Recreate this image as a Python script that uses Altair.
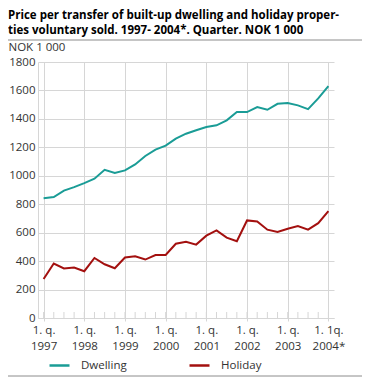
import json
import altair as alt
import pandas as pd

# ---- data ----
quarter_index = list(range(29))  # 1997Q1 .. 2004Q1
dwelling = [842, 850, 896, 920,
            948, 979, 1042, 1019,
            1038, 1080, 1139, 1184,
            1212, 1261, 1296, 1320,
            1343, 1355, 1390, 1448,
            1448, 1483, 1464, 1506,
            1511, 1495, 1469, 1544,
            1630]
holiday = [274, 383, 348, 355,
           329, 422, 378, 350,
           425, 434, 411, 443,
           443, 522, 536, 516,
           579, 616, 565, 540,
           686, 679, 621, 605,
           628, 647, 621, 667,
           751]
tick_labels = ["1. q.|1997", "1. q.|1998", "1. q.|1999", "1. q.|2000",
               "1. q.|2001", "1. q.|2002", "1. q.|2003", "1. 1q.|2004*"]
tick_positions = [0, 4, 8, 12, 16, 20, 24, 28]
y_ticks = [0, 200, 400, 600, 800, 1000, 1200, 1400, 1600, 1800]
series_names = ["Dwelling", "Holiday"]
series_colors = ["#1a9c96", "#a3100f"]
title_lines = ["Price per transfer of built-up dwelling and holiday proper-",
               "ties voluntary sold. 1997- 2004*. Quarter. NOK 1 000"]
y_title = "NOK 1 000"

rows = []
for i in quarter_index:
    rows.append({"q": i, "series": "Dwelling", "value": dwelling[i]})
    rows.append({"q": i, "series": "Holiday", "value": holiday[i]})
df = pd.DataFrame(rows)
ticks_df = pd.DataFrame({"q": quarter_index})
one = pd.DataFrame({"d": [0]})

W, H = 296, 256
LEFT = 30
FONT = "Open Sans"
TXT = "#333333"
GRID = "#d6d6d6"

x_scale = alt.Scale(domain=[-0.55, 28.55], nice=False, zero=False)
y_scale = alt.Scale(domain=[0, 1800], nice=False)

label_expr = "split(" + json.dumps(tick_labels) + "[round(datum.value/4)], '|')"

x_enc = alt.X("q:Q", scale=x_scale, axis=alt.Axis(
    values=tick_positions, labelExpr=label_expr, title=None,
    grid=True, gridColor=GRID, domain=True, domainColor=GRID,
    ticks=True, tickSize=3, tickColor=GRID,
    labelFont=FONT, labelFontSize=11.5, labelColor=TXT, labelPadding=3,
    labelLineHeight=16, labelFlush=False, labelOverlap=False))

y_enc = alt.Y("value:Q", scale=y_scale, axis=alt.Axis(
    values=y_ticks, format="d", title=y_title, titleAngle=0, titleX=-LEFT, titleY=-15,
    titleAlign="left", titleBaseline="middle", titleFontWeight="normal",
    titleFont=FONT, titleFontSize=11.5, titleColor=TXT,
    grid=True, gridColor=GRID, domain=True, domainColor=GRID, ticks=False,
    labelFont=FONT, labelFontSize=11.5, labelColor=TXT, labelPadding=3))

lines = alt.Chart(df).mark_line(strokeWidth=2).encode(
    x=x_enc, y=y_enc,
    color=alt.Color("series:N", scale=alt.Scale(domain=series_names, range=series_colors),
                    legend=alt.Legend(title=None, orient="none", legendX=10, legendY=292,
                                      direction="horizontal", symbolType="stroke",
                                      symbolStrokeWidth=2.5, symbolSize=400,
                                      labelFont=FONT, labelFontSize=11.5, labelColor=TXT,
                                      labelOffset=10, columnPadding=57)),
)

qticks = alt.Chart(ticks_df).mark_rule(color=GRID, strokeWidth=1).encode(
    x=alt.X("q:Q", scale=x_scale),
    y=alt.value(H - 6), y2=alt.value(H),
)

title = alt.Chart(one).mark_text(
    align="left", baseline="alphabetic", font=FONT, fontSize=11.5, fontWeight="bold",
    color="#000000", lineHeight=15.5, text=title_lines,
).encode(x=alt.value(-LEFT), y=alt.value(-43.5))

rule_top = alt.Chart(one).mark_rule(color="#8c8c8c", strokeWidth=1).encode(
    x=alt.value(-LEFT), x2=alt.value(324), y=alt.value(-22))
rule_bottom = alt.Chart(one).mark_rule(color="#8c8c8c", strokeWidth=1).encode(
    x=alt.value(-LEFT), x2=alt.value(324), y=alt.value(314))

chart = alt.layer(qticks, lines, title, rule_top, rule_bottom).properties(
    width=W, height=H,
    padding={"left": LEFT, "top": 54, "right": 28, "bottom": 59},
    autosize=alt.AutoSizeParams(type="none"),
).configure_view(stroke=None)

chart.save("out.html", embed_options={"renderer": "svg", "actions": False})
